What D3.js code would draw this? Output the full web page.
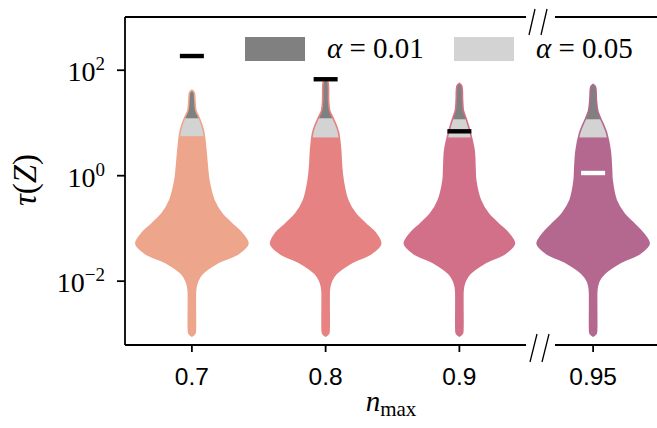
<!DOCTYPE html>
<html>
<head>
<meta charset="utf-8">
<script src="https://cdn.jsdelivr.net/npm/d3@7"></script>
<style>
  body { margin: 0; background: #fff; }
  svg { display: block; }
</style>
</head>
<body>
<svg id="chart" width="657" height="428"></svg>
<script>
// categories (n_max)
const cats = ["0.7", "0.8", "0.9", "0.95"];
const palette = ["#eda58c", "#e68382", "#d2708a", "#b4688f"];

// log10(tau) levels at which violin half-widths were read
const logLevels = [-3.05, -3.0, -2.9, -2.5, -2.2, -2.1, -2.0, -1.87, -1.67, -1.48, -1.3, -1.1,
  -0.92, -0.73, -0.47, -0.1, 0.15, 0.47, 0.8, 0.95, 1.1, 1.23, 1.42];

// violin density (half widths, arbitrary units)
const dens07  = [0, 3, 3.5, 3.5, 3.6, 4.3, 6, 10.3, 25, 47, 56, 50, 40, 30, 22, 17, 15.5, 14, 12, 10, 7, 4, 3];
const dens08  = [0, 3, 3.5, 3.5, 3.6, 4.3, 6, 10.5, 25, 46, 55, 50, 40, 30, 22, 17.5, 16, 15, 13, 10.5, 7, 4, 3];
const dens09  = [0, 3, 3.5, 3.5, 3.6, 4.3, 6, 10.5, 25, 46, 55, 49, 39, 29, 21, 16.3, 15.6, 14.7, 11, 8.8, 6.3, 4, 3.2];
const dens095 = [0, 3, 3.5, 3.5, 3.6, 4.3, 6, 11, 26, 47, 56, 50, 41, 31, 23, 19, 18.3, 17, 13.5, 10.5, 7, 4.5, 3.3];
const densities = [dens07, dens08, dens09, dens095];

// top of each violin (log10 tau)
const tips = [1.61, 1.81, 1.74, 1.72];

// critical values
const crit01 = [12, 12, 11.5, 11.5];
const crit05 = [5.5, 5.2, 5.2, 5.2];

// observed statistic
const observed = [182, 66, 6.8, 1.1];

const yTicks = [1e-2, 1, 1e2];

const svg = d3.select("#chart");
const mLeft = 125, mTop = 17, mBottom = 345, mRight = 657;

const x = d3.scaleBand().domain(cats).range([mLeft, 660]);
const y = d3.scaleLog().domain([Math.pow(10, -3.22), 1000]).range([mBottom, mTop]);
const allD = densities.flat();
const w = d3.scaleLinear().domain([0, d3.max(allD)]).range([0, 56]);

const defs = svg.append("defs");

cats.forEach((c, i) => {
  const cx = x(c) + x.bandwidth() / 2;
  const pts = logLevels.map((l, j) => ({ t: Math.pow(10, l), d: densities[i][j] }));
  pts.push({ t: Math.pow(10, tips[i] - 0.04), d: 2.2 });
  pts.push({ t: Math.pow(10, tips[i]), d: 0 });

  const area = d3.area()
    .y(d => y(d.t))
    .x0(d => cx - w(d.d))
    .x1(d => cx + w(d.d))
    .curve(d3.curveCatmullRom);

  const pathD = area(pts);
  defs.append("clipPath").attr("id", "clip" + i).append("path").attr("d", pathD);

  const g = svg.append("g");
  g.append("path").attr("d", pathD).attr("fill", palette[i]);

  // alpha = 0.05 region
  g.append("rect")
    .attr("clip-path", `url(#clip${i})`)
    .attr("x", cx - 60).attr("width", 120)
    .attr("y", mTop).attr("height", y(crit05[i]) - mTop)
    .attr("fill", "#d3d3d3");
  // alpha = 0.01 region
  g.append("rect")
    .attr("clip-path", `url(#clip${i})`)
    .attr("x", cx - 60).attr("width", 120)
    .attr("y", mTop).attr("height", y(crit01[i]) - mTop)
    .attr("fill", "#808080");

  g.append("path").attr("d", pathD).attr("fill", "none")
    .attr("stroke", palette[i]).attr("stroke-width", 1.6);

  // observed marker
  g.append("rect")
    .attr("x", cx - 12).attr("width", 24)
    .attr("y", y(observed[i]) - 2.2).attr("height", 4.4)
    .attr("fill", observed[i] < crit05[i] ? "#fff" : "#000");
});

// legend
const legendItems = [
  { label: "0.01", color: "#808080", x: 245 },
  { label: "0.05", color: "#d3d3d3", x: 454 }
];
legendItems.forEach(item => {
  svg.append("rect").attr("x", item.x).attr("y", 37).attr("width", 60).attr("height", 24)
    .attr("fill", item.color);
  const t = svg.append("text").attr("x", item.x + 82).attr("y", 58)
    .attr("font-family", "Liberation Serif, DejaVu Serif, serif").attr("font-size", 29);
  t.append("tspan").attr("font-style", "italic").text("\u03b1");
  t.append("tspan").text(" = " + item.label);
});

// y axis
const yAxis = svg.append("g").attr("transform", `translate(${mLeft},0)`)
  .call(d3.axisLeft(y).tickValues(yTicks).tickSize(8).tickFormat(() => ""));
yAxis.select(".domain").remove();
yAxis.selectAll(".tick line").attr("stroke", "#000").attr("stroke-width", 1.8);
yAxis.selectAll(".tick text").each(function(d) {
  const e = Math.round(Math.log10(d));
  const t = d3.select(this).attr("x", -20).attr("dy", 0).attr("y", 11)
    .attr("text-anchor", "end").attr("fill", "#000")
    .attr("font-family", "Liberation Serif, DejaVu Serif, serif").attr("font-size", 28);
  t.append("tspan").text("10");
  t.append("tspan").attr("dy", -11).attr("font-size", 19).text(e < 0 ? "\u2212" + (-e) : String(e));
});

// x axis
const xAxis = svg.append("g").attr("transform", `translate(0,${mBottom})`)
  .call(d3.axisBottom(x).tickSize(7));
xAxis.select(".domain").remove();
xAxis.selectAll(".tick line").attr("stroke", "#000").attr("stroke-width", 1.8);
xAxis.selectAll(".tick text").attr("y", 40).attr("dy", 0).attr("fill", "#000")
  .attr("font-family", "Liberation Sans, Arial, sans-serif").attr("font-size", 24.5);

// spines with break marks
const spine = svg.append("g").attr("stroke", "#000").attr("stroke-width", 1.8).attr("fill", "none");
spine.append("line").attr("x1", mLeft).attr("x2", mLeft).attr("y1", mTop).attr("y2", mBottom);
[mTop, mBottom].forEach(yy => {
  spine.append("line").attr("x1", mLeft).attr("x2", 526).attr("y1", yy).attr("y2", yy);
  spine.append("line").attr("x1", 555).attr("x2", mRight).attr("y1", yy).attr("y2", yy);
});
[[529, 35, 535, 9], [541, 35, 547, 9], [530, 362, 537, 334], [542, 362, 549, 334]].forEach(s => {
  spine.append("line").attr("x1", s[0]).attr("y1", s[1]).attr("x2", s[2]).attr("y2", s[3])
    .attr("stroke-width", 1.3);
});

// axis labels
const xl = svg.append("text").attr("x", 391).attr("y", 411).attr("text-anchor", "middle")
  .attr("font-family", "Liberation Serif, DejaVu Serif, serif").attr("font-size", 29);
xl.append("tspan").attr("font-style", "italic").text("n");
xl.append("tspan").attr("dy", 5).attr("font-size", 21).text("max");

const yl = svg.append("text").attr("transform", "translate(36,180) rotate(-90)")
  .attr("text-anchor", "middle")
  .attr("font-family", "Liberation Serif, DejaVu Serif, serif").attr("font-size", 33);
yl.append("tspan").attr("font-style", "italic").text("\u03c4");
yl.append("tspan").text("(");
yl.append("tspan").attr("font-style", "italic").text("Z");
yl.append("tspan").text(")");
</script>
</body>
</html>
